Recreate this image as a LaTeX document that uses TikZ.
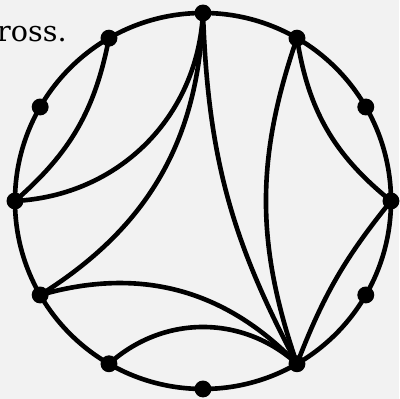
\documentclass[tikz,border=0pt]{standalone}
\usepackage{fontspec}
\setmainfont{DejaVu Serif}
\definecolor{paper}{HTML}{F2F2F2}
\tikzset{
  dot/.style={circle, fill=black, inner sep=0pt, minimum size=0.27cm},
  rim/.style={draw=black, line width=2.1pt},
  geo/.style={draw=black, line width=2.1pt},
  txt/.style={font=\fontsize{13}{15}\selectfont, anchor=base west, inner sep=0pt},
}
\begin{document}
\begin{tikzpicture}[x=1cm,y=1cm]
  \fill[paper] (-3.239,-3.160) rectangle (3.128,3.207);
  \useasboundingbox (-3.239,-3.160) rectangle (3.128,3.207);
  \node[txt] (lbl) at (-3.29,2.537) {ross.};
  \node[dot] (n0) at (0:3) {};
  \node[dot] (n1) at (30:3) {};
  \node[dot] (n2) at (60:3) {};
  \node[dot] (n3) at (90:3) {};
  \node[dot] (n4) at (120:3) {};
  \node[dot] (n5) at (150:3) {};
  \node[dot] (n6) at (180:3) {};
  \node[dot] (n7) at (210:3) {};
  \node[dot] (n8) at (240:3) {};
  \node[dot] (n9) at (270:3) {};
  \node[dot] (n10) at (300:3) {};
  \node[dot] (n11) at (330:3) {};
  \draw[rim] (0,0) circle (3);
  \draw[geo] (n4.center) to[bend left=19] (n6.center);
  \draw[geo] (n3.center) to[bend left=42] (n6.center);
  \draw[geo] (n3.center) to[bend left=28] (n7.center);
  \draw[geo] (n7.center) to[bend left=31] (n10.center);
  \draw[geo] (n8.center) to[bend left=42] (n10.center);
  \draw[geo] (n10.center) to[bend left=13] (n3.center);
  \draw[geo] (n10.center) to[bend left=19] (n2.center);
  \draw[geo] (n0.center) to[bend left=21] (n2.center);
  \draw[geo] (n10.center) to[bend left=9] (n0.center);
\end{tikzpicture}
\end{document}
